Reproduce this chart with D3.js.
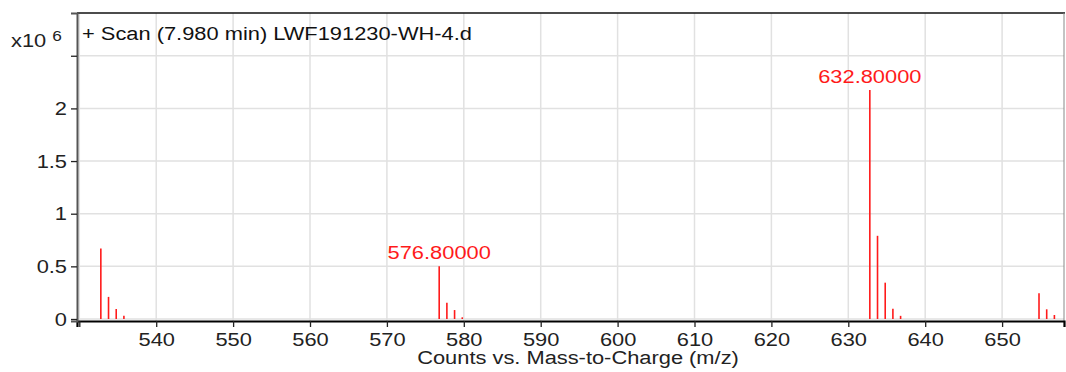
<!DOCTYPE html>
<html>
<head>
<meta charset="utf-8">
<script src="https://cdn.jsdelivr.net/npm/d3@7/dist/d3.min.js"></script>
<style>
  html, body { margin: 0; padding: 0; background: #fff; }
  svg { display: block; font-family: "Liberation Sans", Arial, Helvetica, sans-serif; }
</style>
</head>
<body>
<svg id="chart" width="1066" height="372"></svg>
<script>
// Mass spectrum peaks: m/z and abundance (x10^6 counts)
const mzValues = [532.8, 533.8, 534.8, 535.8,
                  576.8, 577.8, 578.8, 579.8,
                  632.8, 633.8, 634.8, 635.8, 636.8,
                  654.8, 655.8, 656.8];
const countValues = [0.67, 0.21, 0.095, 0.03,
                     0.50, 0.155, 0.085, 0.016,
                     2.175, 0.79, 0.345, 0.098, 0.03,
                     0.244, 0.092, 0.038];
// Peaks carrying an m/z annotation
const labelledPeaks = [576.8, 632.8];

const xTicks = [530, 540, 550, 560, 570, 580, 590, 600, 610, 620, 630, 640, 650];
const xTickLabels = ["", "540", "550", "560", "570", "580", "590", "600", "610", "620", "630", "640", "650"];
const yTicks = [0, 0.5, 1, 1.5, 2, 2.5];
const yTickLabels = ["0", "0.5", "1", "1.5", "2", ""];

const titleText = "+ Scan (7.980 min) LWF191230-WH-4.d";
const xAxisTitle = "Counts vs. Mass-to-Charge (m/z)";

const svg = d3.select("#chart");
const plotLeft = 77, plotRight = 1064, plotTop = 13, plotBottom = 321;

const x = d3.scaleLinear().domain([529.7, 658.05]).range([plotLeft, plotRight]);
const y = d3.scaleLinear().domain([-0.019, 2.906]).range([plotBottom, plotTop]);

const fontSize = 19;
const stretch = 1.15;   // the instrument font is set a little wide

// places a horizontally widened text at (px, py)
function wideText(parent, px, py, anchor, size) {
  return parent.append("g").attr("transform", `translate(${px},${py}) scale(${stretch},1)`)
    .append("text").attr("text-anchor", anchor).attr("font-size", size);
}

// gridlines
const grid = svg.append("g");
grid.selectAll("line.vx").data(xTicks).join("line")
  .attr("x1", d => x(d)).attr("x2", d => x(d))
  .attr("y1", plotTop).attr("y2", plotBottom)
  .attr("stroke", "#e1e1e1").attr("stroke-width", 1.5);
grid.selectAll("line.hy").data(yTicks).join("line")
  .attr("x1", plotLeft).attr("x2", plotRight)
  .attr("y1", d => y(d)).attr("y2", d => y(d))
  .attr("stroke", "#e1e1e1").attr("stroke-width", 1.5);

// frame: top and right edges
svg.append("line").attr("x1", plotLeft).attr("x2", plotRight + 1).attr("y1", plotTop).attr("y2", plotTop)
  .attr("stroke", "#111").attr("stroke-width", 1.6);
svg.append("line").attr("x1", plotRight).attr("x2", plotRight).attr("y1", plotTop).attr("y2", plotBottom)
  .attr("stroke", "#888").attr("stroke-width", 1);

// spectrum sticks
const peaks = mzValues.map((m, i) => ({ mz: m, v: countValues[i] }));
svg.append("g").selectAll("line").data(peaks).join("line")
  .attr("x1", d => x(d.mz)).attr("x2", d => x(d.mz))
  .attr("y1", y(0)).attr("y2", d => y(d.v))
  .attr("stroke", "#ff1a1a").attr("stroke-width", 1.6);

// peak annotations
peaks.filter(p => labelledPeaks.includes(p.mz)).forEach(p => {
  wideText(svg, x(p.mz), y(p.v) - 7, "middle", fontSize)
    .attr("fill", "#ff1a1a").text(p.mz.toFixed(5));
});

// x axis
const xAxis = d3.axisBottom(x).tickValues(xTicks)
  .tickFormat((d, i) => xTickLabels[i]).tickSize(6).tickPadding(6);
const gx = svg.append("g").attr("transform", `translate(0,${plotBottom})`).call(xAxis);
gx.select(".domain").attr("stroke", "#000").attr("stroke-width", 2.2);
gx.selectAll(".tick line").attr("stroke", "#222").attr("stroke-width", 1.3);
gx.selectAll(".tick text").attr("font-size", fontSize).attr("fill", "#222")
  .attr("font-family", "Liberation Sans, Arial, sans-serif")
  .attr("transform", `scale(${stretch},1)`);

// y axis
const yAxis = d3.axisLeft(y).tickValues(yTicks)
  .tickFormat((d, i) => yTickLabels[i]).tickSize(6).tickPadding(5);
const gy = svg.append("g").attr("transform", `translate(${plotLeft},0)`).call(yAxis);
gy.select(".domain").attr("stroke", "#555").attr("stroke-width", 2);
gy.selectAll(".tick line").attr("stroke", "#222").attr("stroke-width", 1.3);
gy.selectAll(".tick text").attr("font-size", fontSize).attr("fill", "#222")
  .attr("font-family", "Liberation Sans, Arial, sans-serif")
  .attr("x", -10 / stretch)
  .attr("transform", `scale(${stretch},1)`);

// title inside plot
wideText(svg, plotLeft + 5, 40, "start", fontSize).attr("fill", "#111").text(titleText);

// exponent label
const ex = wideText(svg, 11, 47, "start", fontSize).attr("fill", "#222");
ex.append("tspan").text("x10 ");
ex.append("tspan").attr("dy", -6).attr("font-size", 15).text("6");

// x axis title
wideText(svg, 578, 364, "middle", fontSize).attr("fill", "#222").text(xAxisTitle);
</script>
</body>
</html>
